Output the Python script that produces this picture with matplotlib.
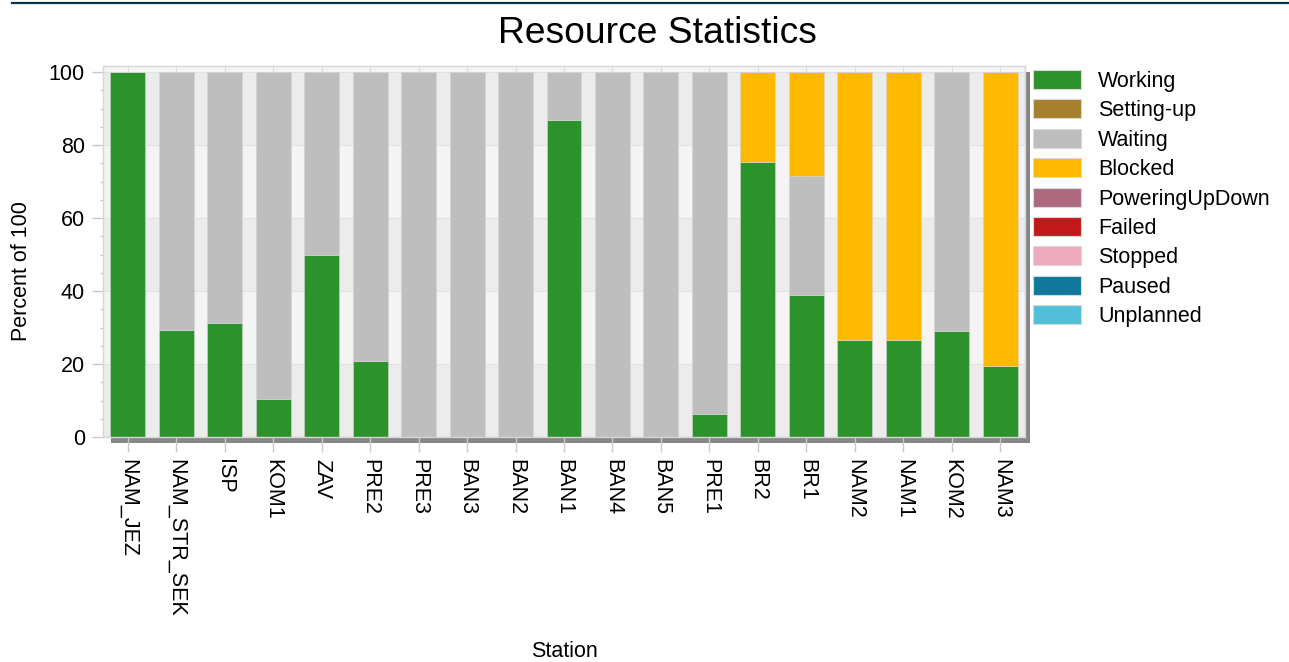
import matplotlib
matplotlib.use("Agg")
import matplotlib.pyplot as plt
from matplotlib.patches import Patch, Rectangle
from matplotlib.lines import Line2D
from matplotlib.ticker import MultipleLocator

plt.rcParams["font.family"] = ["Liberation Sans", "DejaVu Sans"]

STATIONS = [
    "NAM_JEZ", "NAM_STR_SEK", "ISP", "KOM1", "ZAV", "PRE2", "PRE3", "BAN3",
    "BAN2", "BAN1", "BAN4", "BAN5", "PRE1", "BR2", "BR1", "NAM2", "NAM1",
    "KOM2", "NAM3",
]

# percent of time per state, one value per station
working = [100, 29.3, 31.3, 10.5, 50.0, 20.8, 0, 0, 0, 87.0, 0, 0, 6.2,
           75.5, 38.9, 26.6, 26.6, 29.1, 19.5]
setting_up = [0] * 19
waiting = [0, 70.7, 68.7, 89.5, 50.0, 79.2, 100, 100, 100, 13.0, 100, 100,
           93.8, 0, 32.6, 0, 0, 70.9, 0]
blocked = [0, 0, 0, 0, 0, 0, 0, 0, 0, 0, 0, 0, 0,
           24.5, 28.5, 73.4, 73.4, 0, 80.5]
powering = [0] * 19
failed = [0] * 19
stopped = [0] * 19
paused = [0] * 19
unplanned = [0] * 19

STATES = ["Working", "Setting-up", "Waiting", "Blocked", "PoweringUpDown",
          "Failed", "Stopped", "Paused", "Unplanned"]
STATE_VALUES = [working, setting_up, waiting, blocked, powering, failed,
                stopped, paused, unplanned]
STATE_COLORS = ["#2c922c", "#a6802e", "#bebebe", "#ffb900", "#ad6a7f",
                "#c21a1a", "#eeaabd", "#10789c", "#52bfd9"]

W, H = 1289, 662
fig = plt.figure(figsize=(W / 100, H / 100), dpi=100)
ax = fig.add_axes([103 / W, 225 / H, 922 / W, 371 / H])

x = list(range(len(STATIONS)))

# alternating background bands
for i, lo in enumerate(range(0, 120, 20)):
    ax.axhspan(lo, lo + 20, color="#ececec" if i % 2 == 0 else "#f4f4f4",
               zorder=0, lw=0)
for lo in range(20, 120, 20):
    ax.axhline(lo, color="#e2e2e2", lw=0.8, zorder=0.5)
for xi in x:
    ax.axvline(xi, color="#dcdcdc", lw=0.8, zorder=0.5)

bottom = [0.0] * len(STATIONS)
for name, vals, color in zip(STATES, STATE_VALUES, STATE_COLORS):
    ax.bar(x, vals, bottom=bottom, width=0.72, color=color,
           edgecolor="#d4d4d4", linewidth=0.4, zorder=2)
    bottom = [b + v for b, v in zip(bottom, vals)]

ax.set_xlim(-0.51, len(STATIONS) - 0.49)
ax.set_ylim(0, 101.7)
ax.set_xticks(x)
ax.set_xticklabels(STATIONS, rotation=-90, fontsize=15.5)
ax.yaxis.set_major_locator(MultipleLocator(20))
ax.yaxis.set_minor_locator(MultipleLocator(5))
ax.tick_params(axis="y", which="major", length=8, width=1, color="#c8c8c8",
               labelsize=15.5, pad=5)
ax.tick_params(axis="y", which="minor", length=2.5, width=1, color="#c8c8c8")
ax.tick_params(axis="x", length=11, width=1, color="#c8c8c8", pad=5)
for spine in ax.spines.values():
    spine.set_color("#d6d6d6")
    spine.set_linewidth(1)

ax.set_ylabel("Percent of 100", fontsize=15.5, va="center")
ax.yaxis.set_label_coords(-0.0885, 0.447)
ax.set_xlabel("Station", fontsize=15.5, va="center")
ax.xaxis.set_label_coords(0.5, -0.577)

# drop shadow along bottom and right edge of the plot frame
pos = ax.get_position()
dx, dy = 5 / W, 6 / H
fig.add_artist(Rectangle((pos.x0 + 8 / W, pos.y0 - dy), pos.width - 8 / W + dx, dy,
                         transform=fig.transFigure, color="#868686", lw=0, zorder=-1))
fig.add_artist(Rectangle((pos.x1, pos.y0 - dy), dx, pos.height - 6 / H + dy,
                         transform=fig.transFigure, color="#868686", lw=0, zorder=-1))

handles = [Patch(facecolor=c, edgecolor="#d8d8d8", lw=0.8) for c in STATE_COLORS]
fig.legend(handles, STATES, loc="upper left", bbox_to_anchor=(1033 / W, 1 - 70 / H),
           frameon=False, fontsize=15.5, handlelength=2.25, handleheight=0.98,
           labelspacing=0.35, handletextpad=0.78, borderpad=0, borderaxespad=0)

fig.text(657.5 / W, 1 - 43 / H, "Resource Statistics", fontsize=26.8,
         ha="center", va="baseline")
fig.add_artist(Line2D([12 / W, 1], [1 - 2.5 / H, 1 - 2.5 / H],
                      transform=fig.transFigure, color="#0d3347", lw=1.6))

fig.savefig("out.png", dpi=100)
